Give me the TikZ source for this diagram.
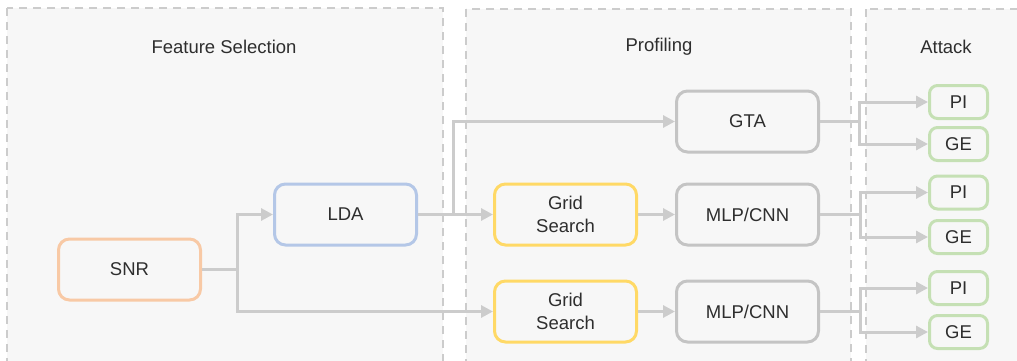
\documentclass[tikz,border=0pt]{standalone}
\usepackage{fontspec}
\setmainfont{Liberation Sans}
\usetikzlibrary{arrows.meta,calc}
\definecolor{panelfill}{HTML}{F7F7F7}
\definecolor{paneldash}{HTML}{CCCCCC}
\definecolor{conncol}{HTML}{CCCCCC}
\definecolor{txtcol}{HTML}{2E2E2E}
\definecolor{orangeb}{HTML}{F8C9A5}
\definecolor{blueb}{HTML}{B4C7E7}
\definecolor{yellowb}{HTML}{FFD966}
\definecolor{grayb}{HTML}{C4C4C4}
\definecolor{greenb}{HTML}{C5E0B4}
\tikzset{
  panel/.style={fill=panelfill,draw=paneldash,line width=1.8pt,dash pattern=on 8pt off 6pt},
  ptitle/.style={text=txtcol,font=\fontsize{18.5}{21}\selectfont},
  box/.style={draw,line width=3pt,rounded corners=11pt,fill=panelfill,minimum width=142pt,minimum height=61pt,text=txtcol,align=center,font=\fontsize{18.5}{23.5}\selectfont,inner sep=0pt},
  sbox/.style={draw=greenb,line width=3pt,rounded corners=8pt,fill=panelfill,minimum width=58pt,minimum height=33pt,text=txtcol,font=\fontsize{18.5}{21}\selectfont,inner sep=0pt},
  conn/.style={draw=conncol,line width=3pt},
  arr/.style={conn,-{Triangle[length=12pt,width=12pt]}},
}
\begin{document}
\begin{tikzpicture}[x=1pt,y=-1pt]
\useasboundingbox (0,0) rectangle (1017,360);
\clip (0,0) rectangle (1017,360);
% panels
\draw[panel] (7,8) rectangle (443,380);
\draw[panel] (466,9) rectangle (851,380);
\draw[panel] (866,9) rectangle (1040,380);
\node[ptitle] (t1) at (224,47) {Feature Selection};
\node[ptitle] (t2) at (659,47) {Profiling};
\node[ptitle] (t3) at (946,47) {Attack};
% boxes
\node[box,draw=orangeb] (snr) at (129.5,269.5) {SNR};
\node[box,draw=blueb] (lda) at (345.5,214.5) {LDA};
\node[box,draw=yellowb] (gs1) at (565.5,214.5) {Grid\\Search};
\node[box,draw=yellowb] (gs2) at (565.5,311.5) {Grid\\Search};
\node[box,draw=grayb] (gta) at (747.5,121.5) {GTA};
\node[box,draw=grayb] (mlp1) at (747.5,214.5) {MLP/CNN};
\node[box,draw=grayb] (mlp2) at (747.5,311.5) {MLP/CNN};
\node[sbox] (pi1) at (958.5,102) {PI};
\node[sbox] (ge1) at (958.5,144) {GE};
\node[sbox] (pi2) at (958.5,192.5) {PI};
\node[sbox] (ge2) at (958.5,237) {GE};
\node[sbox] (pi3) at (958.5,288) {PI};
\node[sbox] (ge3) at (958.5,332) {GE};
% connectors
\draw[conn] (snr.east) -- ++(35,0) coordinate (j1);
\draw[arr] (j1) |- (lda.west);
\draw[arr] (j1) |- (gs2.west);
\draw[arr] (lda.east) -- (gs1.west);
\draw[conn] (lda.east) -- ++(35,0) coordinate (j2);
\draw[arr] (j2) |- (gta.west);
\draw[arr] (gs1.east) -- (mlp1.west);
\draw[arr] (gs2.east) -- (mlp2.west);
\draw[conn] (gta.east) -- ++(39,0) coordinate (j3);
\draw[arr] (j3) |- (pi1.west);
\draw[arr] (j3) |- (ge1.west);
\draw[conn] (mlp1.east) -- ++(40,0) coordinate (j4);
\draw[arr] (j4) |- (pi2.west);
\draw[arr] (j4) |- (ge2.west);
\draw[conn] (mlp2.east) -- ++(40,0) coordinate (j5);
\draw[arr] (j5) |- (pi3.west);
\draw[arr] (j5) |- (ge3.west);
\end{tikzpicture}
\end{document}
